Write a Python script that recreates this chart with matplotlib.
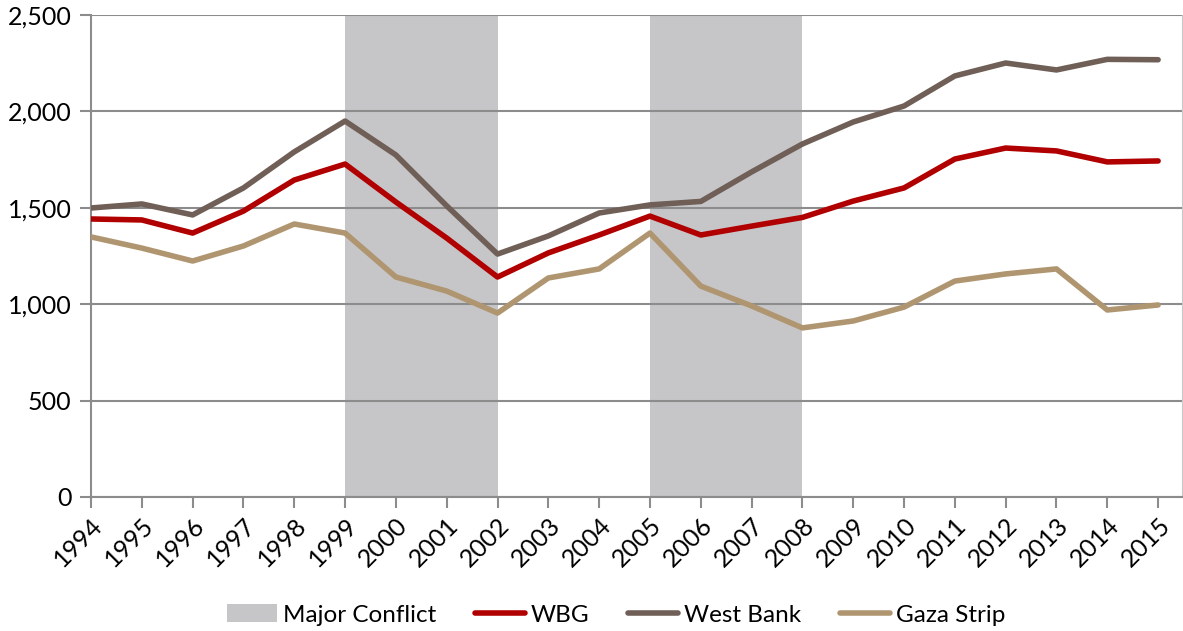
import numpy as np
import matplotlib.pyplot as plt
from matplotlib.patches import Patch
from matplotlib.lines import Line2D

years = list(range(1994, 2016))
wbg = [1442, 1437, 1369, 1483, 1644, 1727, 1530, 1343, 1141, 1266, 1359,
       1457, 1359, 1405, 1450, 1535, 1603, 1753, 1810, 1795, 1738, 1743]
west_bank = [1499, 1520, 1463, 1603, 1790, 1950, 1774, 1510, 1260, 1354, 1473,
             1515, 1533, 1686, 1831, 1945, 2028, 2184, 2251, 2215, 2270, 2268]
gaza = [1349, 1291, 1224, 1302, 1416, 1369, 1141, 1068, 954, 1136, 1183,
        1369, 1094, 991, 877, 913, 985, 1120, 1157, 1183, 970, 996]
conflicts = [(1999, 2002), (2005, 2008)]

plt.rcParams['font.family'] = ['Lato', 'DejaVu Sans']

fig = plt.figure(figsize=(11.83, 6.31), dpi=100)
ax = fig.add_axes([91/1183, (631-497)/631, (1182-91)/1183, (497-15)/631])

for a, b in conflicts:
    ax.axvspan(a, b, color='#c6c6c8', lw=0, zorder=0.5)

ax.plot(years, wbg, color='#b00000', lw=4, solid_capstyle='round', zorder=3)
ax.plot(years, west_bank, color='#6f5f57', lw=4, solid_capstyle='round', zorder=3)
ax.plot(years, gaza, color='#b09670', lw=4, solid_capstyle='round', zorder=3)

ax.set_xlim(1994, 2015.47)
ax.set_ylim(0, 2500)
ax.set_yticks(np.arange(0, 2501, 500))
ax.set_yticklabels([f'{v:,}' for v in range(0, 2501, 500)])
ax.set_xticks(years)
ax.set_xticklabels([str(y) for y in years], rotation=45, ha='right',
                   va='top', rotation_mode='anchor')
ax.grid(axis='y', color='#8c8c8c', lw=1.5, zorder=1)
ax.set_axisbelow(True)

ax.spines['top'].set_visible(False)
ax.spines['right'].set_color('#c8c8c8')
ax.spines['left'].set_color('#8c8c8c')
ax.spines['bottom'].set_color('#8c8c8c')
ax.spines['left'].set_linewidth(1.5)
ax.spines['bottom'].set_linewidth(1.5)
ax.tick_params(axis='both', colors='#8c8c8c', width=1.5, length=8,
               labelcolor='black', labelsize=18)
ax.tick_params(axis='x', pad=4)
ax.tick_params(axis='y', pad=6)

handles = [Patch(color='#c6c6c8', lw=0),
           Line2D([], [], color='#b00000', lw=4, solid_capstyle='round'),
           Line2D([], [], color='#6f5f57', lw=4, solid_capstyle='round'),
           Line2D([], [], color='#b09670', lw=4, solid_capstyle='round')]
labels = ['Major Conflict', 'WBG', 'West Bank', 'Gaza Strip']
fig.legend(handles, labels, loc='center', bbox_to_anchor=(616/1183, 1 - 615/631),
           ncol=4, frameon=False, fontsize=17.5, handlelength=2.05,
           handletextpad=0.25, columnspacing=1.6)

fig.savefig('out.png', dpi=100)
